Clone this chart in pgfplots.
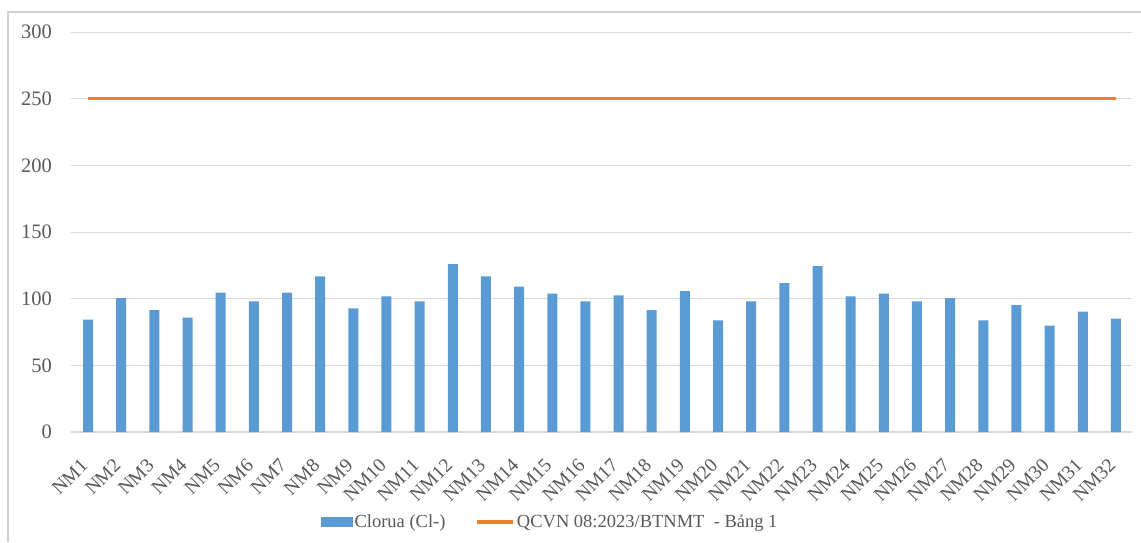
\documentclass[border=0pt]{standalone}
\usepackage{pgfplots}
\pgfplotsset{compat=1.18}
\usepackage{fontspec}
\setmainfont{Liberation Serif}
\definecolor{barblue}{HTML}{5B9BD5}
\definecolor{lineorange}{HTML}{ED7D31}
\definecolor{gridgray}{HTML}{D9D9D9}
\definecolor{txtgray}{HTML}{595959}
\definecolor{framegray}{HTML}{D0D0D0}
\begin{document}
\begin{tikzpicture}[x=1pt,y=1pt]
\useasboundingbox (0,0) rectangle (1141,542);
\draw[framegray, line width=1.2pt] (8,0) -- (8,530) -- (1141,530);
\begin{axis}[
  at={(71.5pt,110pt)}, anchor=south west,
  scale only axis, width=1061pt, height=400pt,
  xmin=-0.5, xmax=31.5, ymin=0, ymax=300,
  ytick={0,50,...,300},
  xtick={0,...,31},
  xticklabels={NM1,NM2,NM3,NM4,NM5,NM6,NM7,NM8,NM9,NM10,NM11,NM12,NM13,NM14,NM15,NM16,NM17,NM18,NM19,NM20,NM21,NM22,NM23,NM24,NM25,NM26,NM27,NM28,NM29,NM30,NM31,NM32},
  major tick length=0pt,
  axis x line*=bottom, axis y line*=left,
  x axis line style={draw=gridgray, line width=1.6pt, -},
  y axis line style={draw=none},
  ymajorgrids, major grid style={draw=gridgray, line width=1pt},
  /pgf/number format/assume math mode=true,
  tick label style={font=\fontsize{20.5}{23}\selectfont, text=txtgray},
  yticklabel style={anchor=east, xshift=-16pt},
  xticklabel style={rotate=45, anchor=north east, inner sep=0pt, yshift=-12pt, xshift=-24pt, font=\fontsize{19.5}{22}\selectfont},
  legend style={at={(0.451,-0.225)}, anchor=center, draw=none, fill=none,
    legend columns=2, font=\fontsize{18.5}{21}\selectfont, text=txtgray,
    /tikz/every even column/.append style={column sep=28pt},
    nodes={inner sep=2pt}},
]
\addplot[ybar, bar width=10pt, fill=barblue, draw=none,
  legend image code/.code={\fill[barblue] (0pt,-5pt) rectangle (32pt,5pt);}]
  coordinates {
  (0,84.25) (1,100.5) (2,91.5) (3,85.75) (4,104.5) (5,98) (6,104.5) (7,116.75)
  (8,92.75) (9,101.75) (10,98) (11,126) (12,116.75) (13,109) (14,103.75) (15,98)
  (16,102.5) (17,91.5) (18,105.75) (19,83.75) (20,98) (21,111.75) (22,124.5) (23,101.75)
  (24,103.75) (25,98) (26,100.5) (27,83.75) (28,95.25) (29,79.75) (30,90.25) (31,85)
  };
\addlegendentry{Clorua (Cl-)}
\addplot[lineorange, line width=3.5pt, mark=none,
  legend image code/.code={\draw[lineorange, line width=3.5pt] (0pt,0pt) -- (36pt,0pt);}]
  coordinates {(0,250) (31,250)};
\addlegendentry{QCVN 08:2023/BTNMT\ \ - Bảng 1}
\end{axis}
\end{tikzpicture}
\end{document}
